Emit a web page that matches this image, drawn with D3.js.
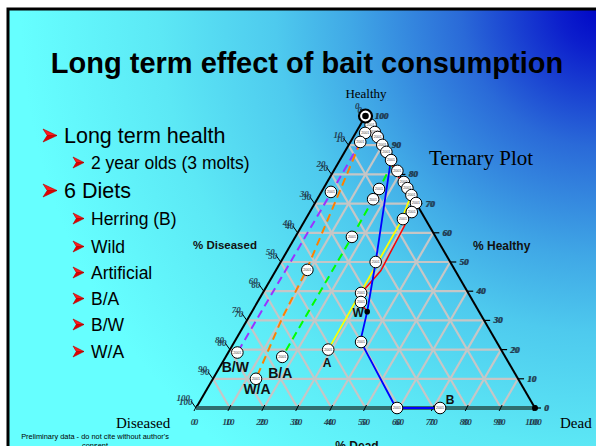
<!DOCTYPE html>
<html><head><meta charset="utf-8">
<script src="https://cdn.jsdelivr.net/npm/d3@7"></script>
<style>
html,body{margin:0;padding:0;background:#fff;}
svg{display:block;}
</style></head><body>
<svg id="c" width="596" height="446"></svg>
<script>
// ---------- data ----------
const titleText = "Long term effect of bait consumption";
const bulletTexts = ["Long term health", "2 year olds (3 molts)", "6 Diets", "Herring (B)", "Wild", "Artificial", "B/A", "B/W", "W/A"];
const bulletLevels = [1, 2, 1, 2, 2, 2, 2, 2, 2];
const axisTicks = [0, 10, 20, 30, 40, 50, 60, 70, 80, 90, 100];

// each diet: % healthy and % dead at successive samples (% diseased = rest)
const herringHealthy = [85, 50, 33, 23, 0, 0];
const herringDead    = [15, 28, 34, 37, 59, 72];
const wildHealthy    = [100, 69, 47, 39, 36, 33];
const wildDead       = [0, 30, 31, 29, 30.5, 34];
const artificialHealthy = [73, 64, 49, 20];
const artificialDead    = [27, 28.5, 28.7, 29];
const baHealthy = [84, 75, 71.5, 58.6, 17.5];
const baDead    = [16, 16.5, 16.5, 16.7, 16.7];
const bwHealthy = [91, 74, 19];
const bwDead    = [3, 3, 2.7];
const waHealthy = [91, 47, 31, 10];
const waDead    = [3, 9, 10, 12.7];

// sampled points (circles)
const sampleHealthy = [97, 94.5, 92.8, 90.1, 87.7, 84.9, 81.2, 77.4, 75.3, 72.9, 70.2,
  94.2, 91.1, 74, 47.3, 75, 71.5, 58.6, 67.1, 64.7, 50, 39.4, 36.3, 22.6, 0, 0,
  19, 10, 17.5, 20];
const sampleDead = [3, 5.5, 7.2, 9.9, 12.3, 15.1, 18.8, 22.6, 24.7, 27.1, 29.8,
  2.8, 2.9, 2.8, 9.2, 16.5, 16.5, 16.7, 30.1, 28.7, 28, 29, 30.5, 37.4, 59.3, 72,
  2.7, 12.7, 16.7, 29];

const endLabels = ["B/W", "B/A", "W/A", "A", "W", "B"];
const endLabelHealthy = [19, 17.5, 10, 20, 33, 0];
const endLabelDead = [2.7, 16.7, 12.7, 29, 34, 72];

// ---------- drawing ----------
const svg = d3.select("#c");
const defs = svg.append("defs");
const grad = defs.append("radialGradient").attr("id", "bg")
  .attr("gradientUnits", "userSpaceOnUse")
  .attr("cx", 600).attr("cy", 8).attr("r", 580);
[[0, "#0006c6"], [0.07, "#0c1ecc"], [0.24, "#2a6ad8"], [0.43, "#40a8e6"],
 [0.56, "#4ecaee"], [0.76, "#5ce8f5"], [1, "#66ffff"]]
  .forEach(s => grad.append("stop").attr("offset", s[0]).attr("stop-color", s[1]));

svg.append("rect").attr("width", 596).attr("height", 446).attr("fill", "#fff");
svg.append("rect").attr("x", 8).attr("y", 9).attr("width", 600).attr("height", 450)
  .attr("fill", "url(#bg)").attr("stroke", "#000").attr("stroke-width", 3);

svg.append("text").attr("x", 307).attr("y", 73).attr("text-anchor", "middle")
  .attr("font-family", "Liberation Sans, Arial, sans-serif").attr("font-weight", "bold")
  .attr("font-size", 29).attr("fill", "#000").text(titleText);

// bullets
const bulletY = [143, 169, 198, 225, 253, 279, 305, 331, 358];
bulletTexts.forEach((t, i) => {
  const lvl = bulletLevels[i];
  const tx = lvl === 1 ? 64 : 91;
  const fs = lvl === 1 ? 21.5 : 17.5;
  const ax = lvl === 1 ? 43 : 73;
  const aw = lvl === 1 ? 14 : 11;
  const ah = lvl === 1 ? 13 : 11;
  const ay = bulletY[i] - (lvl === 1 ? 7.5 : 6.5) - ah / 2;
  const g = svg.append("g").attr("transform", `translate(${ax},${ay})`);
  const n = aw * 0.3;
  g.append("path").attr("d", `M0,0 L${aw},${ah/2} L${n},${ah/2} Z`).attr("fill", "#ff1a1a").attr("stroke", "#b00000").attr("stroke-width", 0.6);
  g.append("path").attr("d", `M0,${ah} L${aw},${ah/2} L${n},${ah/2} Z`).attr("fill", "#e00000").attr("stroke", "#b00000").attr("stroke-width", 0.6);
  svg.append("text").attr("x", tx).attr("y", bulletY[i])
    .attr("font-family", "Liberation Sans, Arial, sans-serif").attr("font-size", fs)
    .attr("fill", "#000").text(t);
});

// ternary scales
const xs = d3.scaleLinear().domain([0, 100]).range([196, 535]);
const ys = d3.scaleLinear().domain([0, 100]).range([408, 116]);
const P = (h, de) => [xs(de + h / 2), ys(h)];
const line = d3.line();

// grid
const gridG = svg.append("g").attr("stroke", "#c6c6c6").attr("stroke-width", 2.2).attr("fill", "none");
axisTicks.filter(k => k > 0 && k < 100).forEach(k => {
  gridG.append("path").attr("d", line([P(k, 0), P(k, 100 - k)]));
  gridG.append("path").attr("d", line([P(0, k), P(100 - k, k)]));
  gridG.append("path").attr("d", line([P(100 - k, 0), P(0, 100 - k)]));
});

// edges
svg.append("path").attr("d", line([P(0, 0), P(100, 0)])).attr("stroke", "#000").attr("stroke-width", 2);
svg.append("path").attr("d", line([P(100, 0), P(0, 100)])).attr("stroke", "#000").attr("stroke-width", 2);
svg.append("path").attr("d", line([P(0, 0), P(0, 100)])).attr("stroke", "#2f6e70").attr("stroke-width", 4);

// ticks & labels
const lblFont = "Liberation Serif, Times New Roman, serif";
const tickLabel = (x, y, txt, anchor, dx, dy) => {
  [[0, 0], [dx, dy]].forEach(o => {
    svg.append("text").attr("x", x + o[0]).attr("y", y + o[1]).attr("text-anchor", anchor)
      .attr("font-family", lblFont).attr("font-style", "italic").attr("font-weight", "bold")
      .attr("font-size", 9).attr("fill", "#1e3346").attr("opacity", 0.9).text(txt);
  });
};
axisTicks.forEach(k => {
  // right edge: % healthy
  const [rx, ry] = P(k, 100 - k);
  svg.append("line").attr("x1", rx).attr("y1", ry).attr("x2", rx + 6).attr("y2", ry).attr("stroke", "#000").attr("stroke-width", 1.2);
  tickLabel(rx + 9, ry + 3, String(k), "start", 0.8, 0);
  // left edge: % diseased
  const [lx, ly] = P(100 - k, 0);
  svg.append("line").attr("x1", lx).attr("y1", ly).attr("x2", lx - 5).attr("y2", ly - 7).attr("stroke", "#000").attr("stroke-width", 1);
  tickLabel(lx - 6, ly - 7, String(k), "end", 2.5, 3.5);
  // bottom: % dead
  const [bx, by] = P(0, k);
  svg.append("line").attr("x1", bx - 2).attr("y1", by + 3).attr("x2", bx + 1).attr("y2", by - 3).attr("stroke", "#000").attr("stroke-width", 1);
  tickLabel(bx - 3, by + 17, String(k), "middle", 3, 0);
});

// series lines
const seriesDefs = [
  {h: bwHealthy, d: bwDead, c: "#9a33ff", dash: "8,5", w: 2},
  {h: waHealthy, d: waDead, c: "#ff8000", dash: "8,5", w: 2},
  {h: baHealthy, d: baDead, c: "#00ff00", dash: "8,5", w: 2},
  {h: artificialHealthy, d: artificialDead, c: "#ffff00", dash: null, w: 1.8},
  {h: wildHealthy, d: wildDead, c: "#ff0000", dash: null, w: 1.5},
  {h: herringHealthy, d: herringDead, c: "#0000ff", dash: null, w: 1.8}
];
seriesDefs.forEach(s => {
  const pts = s.h.map((h, i) => P(h, s.d[i]));
  svg.append("path").attr("d", line(pts)).attr("fill", "none")
    .attr("stroke", s.c).attr("stroke-width", s.w)
    .attr("stroke-dasharray", s.dash);
});

// sample circles
const circG = svg.append("g");
sampleHealthy.forEach((h, i) => {
  const [cx, cy] = P(h, sampleDead[i]);
  circG.append("circle").attr("cx", cx).attr("cy", cy).attr("r", 5.8)
    .attr("fill", "#fff").attr("stroke", "#000").attr("stroke-width", 1);
  circG.append("text").attr("x", cx).attr("y", cy + 1.3).attr("text-anchor", "middle")
    .attr("font-family", "Liberation Sans, Arial, sans-serif").attr("font-size", 3.6)
    .attr("fill", "#444").text("2001");
});
// apex start marker
const [apx, apy] = P(100, 0);
svg.append("circle").attr("cx", apx).attr("cy", apy).attr("r", 6.5).attr("fill", "#fff").attr("stroke", "#000").attr("stroke-width", 2.2);
svg.append("circle").attr("cx", apx).attr("cy", apy).attr("r", 3.3).attr("fill", "#000");
// black dots
const [wdx, wdy] = P(wildHealthy[wildHealthy.length - 1], wildDead[wildDead.length - 1]);
svg.append("circle").attr("cx", wdx).attr("cy", wdy).attr("r", 2.8).attr("fill", "#000");
const [cdx, cdy] = P(0, 100);
svg.append("circle").attr("cx", cdx).attr("cy", cdy).attr("r", 3).attr("fill", "#000");

// end labels
const endOff = [[-2, 19, 14], [-2, 21, 14], [1, 15, 14], [-1, 17, 12], [-9, 5, 12], [10, -4, 12]];
endLabels.forEach((t, i) => {
  const [ex, ey] = P(endLabelHealthy[i], endLabelDead[i]);
  svg.append("text").attr("x", ex + endOff[i][0]).attr("y", ey + endOff[i][1]).attr("text-anchor", "middle")
    .attr("font-family", "Liberation Sans, Arial, sans-serif").attr("font-weight", "bold")
    .attr("font-size", endOff[i][2]).attr("fill", "#111").text(t);
});

// axis titles
const serif = "Liberation Serif, Times New Roman, serif";
const sans = "Liberation Sans, Arial, sans-serif";
svg.append("text").attr("x", 366).attr("y", 98).attr("text-anchor", "middle").attr("font-family", serif).attr("font-size", 13).text("Healthy");
svg.append("text").attr("x", 429).attr("y", 165).attr("font-family", serif).attr("font-size", 21).text("Ternary Plot");
svg.append("text").attr("x", 193).attr("y", 249).attr("font-family", sans).attr("font-weight", "bold").attr("font-size", 11.5).attr("fill", "#111").text("% Diseased");
svg.append("text").attr("x", 473).attr("y", 250).attr("font-family", sans).attr("font-weight", "bold").attr("font-size", 12).attr("fill", "#111").text("% Healthy");
svg.append("text").attr("x", 357).attr("y", 450).attr("text-anchor", "middle").attr("font-family", sans).attr("font-weight", "bold").attr("font-size", 12).attr("fill", "#111").text("% Dead");
svg.append("text").attr("x", 116).attr("y", 428).attr("font-family", serif).attr("font-size", 15).text("Diseased");
svg.append("text").attr("x", 560).attr("y", 428).attr("font-family", serif).attr("font-size", 15).text("Dead");
svg.append("text").attr("x", 95).attr("y", 439).attr("text-anchor", "middle").attr("font-family", sans).attr("font-size", 7.4).text("Preliminary data - do not cite without author's");
svg.append("text").attr("x", 95).attr("y", 448).attr("text-anchor", "middle").attr("font-family", sans).attr("font-size", 7.4).text("consent");
</script>
</body></html>
